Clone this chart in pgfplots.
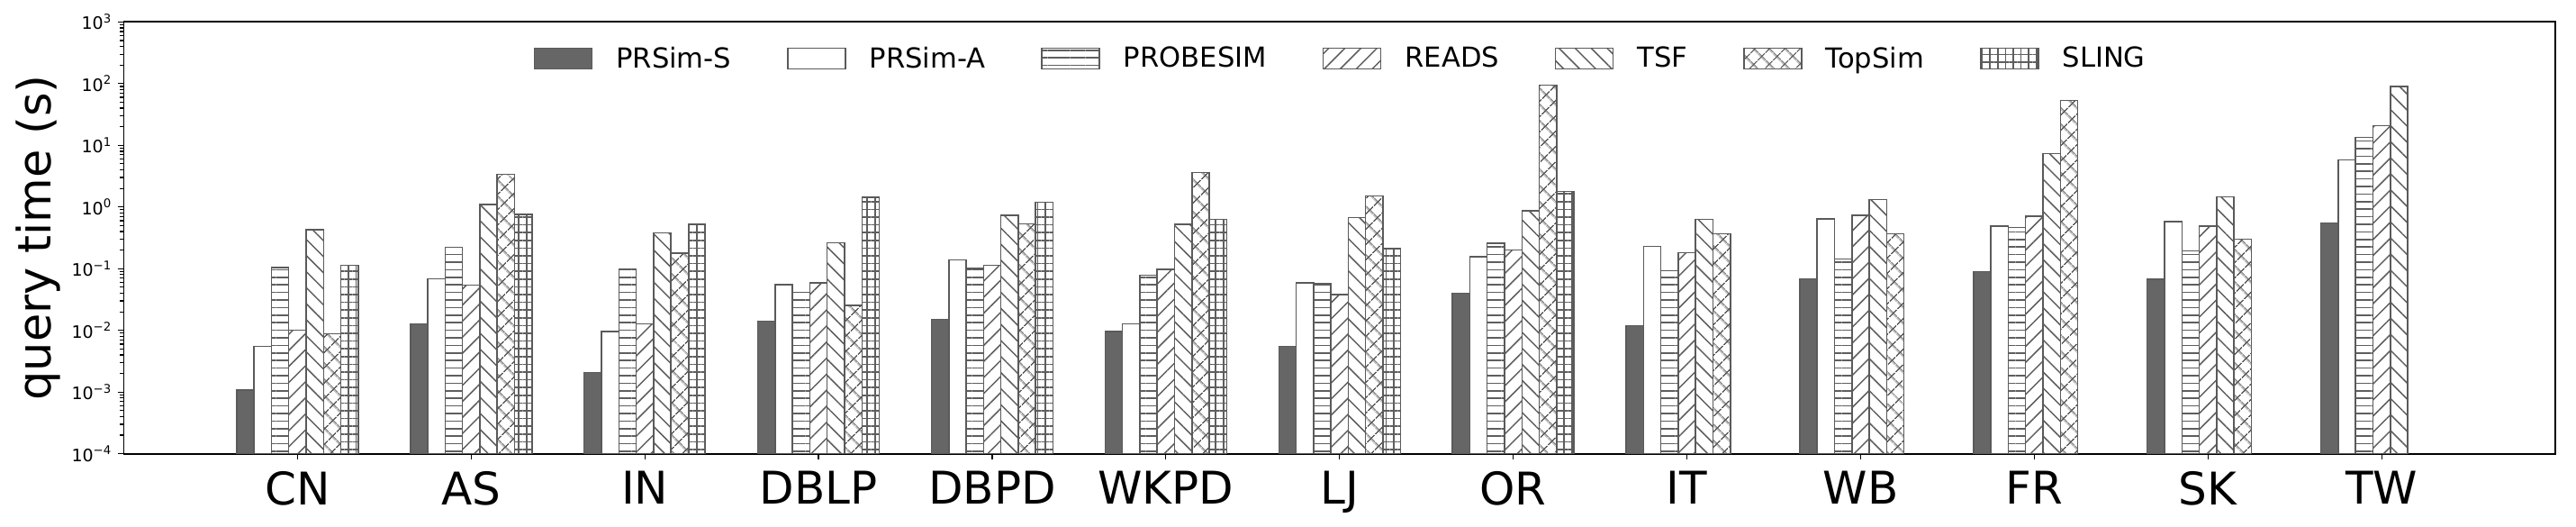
\documentclass[border=0pt]{standalone}
\usepackage{pgfplots}
\pgfplotsset{compat=1.18}
\usetikzlibrary{patterns.meta}
\usepackage{fontspec}
\setmainfont{DejaVu Sans}
\definecolor{darkbar}{HTML}{666666}
\definecolor{edge}{HTML}{5A5A5A}
\definecolor{hatch}{HTML}{5E5E5E}

\begin{document}
\begin{tikzpicture}
\begin{axis}[
  scale only axis,
  width=1350.25pt, height=239.7pt,
  ymode=log, log basis y=10, log origin=infty,
  ymin=1e-4, ymax=1e3,
  xmin=-1, xmax=13,
  ybar=0pt, bar width=0.1,
  xtick={0,1,2,3,4,5,6,7,8,9,10,11,12},
  xticklabels={CN,AS,IN,DBLP,DBPD,WKPD,LJ,OR,IT,WB,FR,SK,TW},
  ytick={1e-4,1e-3,1e-2,1e-1,1,10,100,1000},
  yticklabels={10\textsuperscript{−4},10\textsuperscript{−3},10\textsuperscript{−2},10\textsuperscript{−1},10\textsuperscript{0},10\textsuperscript{1},10\textsuperscript{2},10\textsuperscript{3}},
  minor ytick={2e-4,3e-4,4e-4,5e-4,6e-4,7e-4,8e-4,9e-4,
               2e-3,3e-3,4e-3,5e-3,6e-3,7e-3,8e-3,9e-3,
               2e-2,3e-2,4e-2,5e-2,6e-2,7e-2,8e-2,9e-2,
               2e-1,3e-1,4e-1,5e-1,6e-1,7e-1,8e-1,9e-1,
               2,3,4,5,6,7,8,9,20,30,40,50,60,70,80,90,
               200,300,400,500,600,700,800,900},
  tick align=outside, tick pos=left,
  major tick length=3.4pt, minor tick length=2pt,
  axis line style={line width=0.9pt},
  every tick/.style={black, line width=0.6pt},
  xticklabel style={font=\fontsize{25}{30}\selectfont, inner sep=0pt, yshift=-6pt},
  yticklabel style={font=\fontsize{9.5}{12}\selectfont, inner sep=0pt, xshift=-3pt},
  ylabel={query time (s)},
  ylabel style={font=\fontsize{25.5}{30}\selectfont, at={(axis description cs:-0.0444,0.5)}, anchor=north, inner sep=0pt},
  legend columns=7,
  legend style={at={(0.5,0.915)}, anchor=center, draw=none, fill=none,
    font=\fontsize{15.3}{18}\selectfont,
    nodes={inner sep=0pt},
    /tikz/every odd column/.style={column sep=13pt},
    /tikz/every even column/.style={column sep=31pt}},
  every axis plot/.append style={line width=0.75pt,
    legend image code/.code={\draw[##1] (0pt,-5.75pt) rectangle (32pt,5.75pt);}},
]
% PRSim-S
\addplot[fill=darkbar, draw=edge] coordinates {
 (0,1.08e-3) (1,0.0128) (2,2.08e-3) (3,0.0142) (4,0.0151) (5,9.5e-3) (6,5.46e-3)
 (7,0.040) (8,0.0119) (9,0.069) (10,0.0896) (11,0.067) (12,0.552)};
% PRSim-A
\addplot[fill=white, draw=edge] coordinates {
 (0,5.5e-3) (1,0.069) (2,9.5e-3) (3,0.055) (4,0.139) (5,0.0128) (6,0.059)
 (7,0.157) (8,0.229) (9,0.641) (10,0.487) (11,0.58) (12,5.76)};
% PROBESIM
\addplot[draw=edge, pattern={Lines[angle=0,distance=4.2pt,line width=0.8pt]}, pattern color=hatch] coordinates {
 (0,0.104) (1,0.221) (2,0.099) (3,0.0417) (4,0.1) (5,0.078) (6,0.058)
 (7,0.26) (8,0.092) (9,0.143) (10,0.463) (11,0.195) (12,13.5)};
% READS
\addplot[draw=edge, pattern={Lines[angle=45,distance=6.3pt,line width=0.75pt]}, pattern color=hatch] coordinates {
 (0,0.01) (1,0.054) (2,0.0128) (3,0.0585) (4,0.114) (5,0.098) (6,0.038)
 (7,0.202) (8,0.183) (9,0.727) (10,0.709) (11,0.493) (12,20.7)};
% TSF
\addplot[draw=edge, pattern={Lines[angle=-45,distance=6.3pt,line width=0.75pt]}, pattern color=hatch] coordinates {
 (0,0.43) (1,1.09) (2,0.379) (3,0.263) (4,0.727) (5,0.525) (6,0.675)
 (7,0.867) (8,0.625) (9,1.33) (10,7.31) (11,1.45) (12,89.8)};
% TopSim
\addplot[draw=edge, pattern={Hatch[angle=45,distance=6.4pt,line width=0.75pt]}, pattern color=hatch] coordinates {
 (0,8.8e-3) (1,3.36) (2,0.179) (3,0.0255) (4,0.531) (5,3.62) (6,1.5)
 (7,94) (8,0.369) (9,0.369) (10,53.7) (11,0.302)};
% SLING
\addplot[draw=edge, pattern={Hatch[angle=0,distance=4.3pt,line width=0.75pt]}, pattern color=hatch] coordinates {
 (0,0.114) (1,0.755) (2,0.525) (3,1.43) (4,1.2) (5,0.625) (6,0.21) (7,1.79)};
\legend{PRSim-S,PRSim-A,PROBESIM,READS,TSF,TopSim,SLING}
\end{axis}
\pgfresetboundingbox
\path ([xshift=-68.75pt,yshift=-40.65pt]current axis.south west) rectangle ([xshift=11.5pt,yshift=12.15pt]current axis.north east);
\end{tikzpicture}
\end{document}
